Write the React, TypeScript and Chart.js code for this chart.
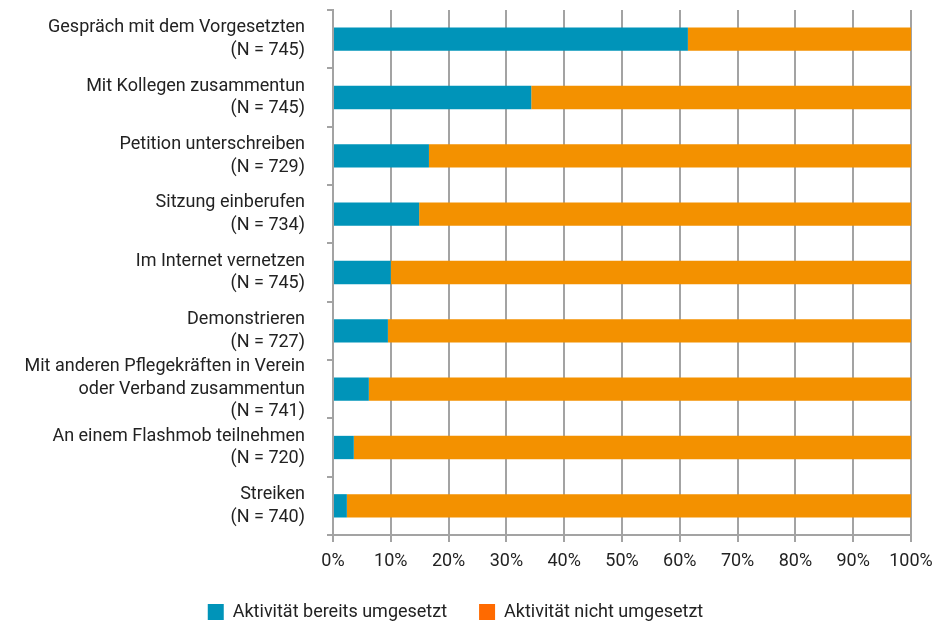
import React, { useEffect, useRef } from "react";
import { Chart, registerables } from "chart.js";

Chart.register(...registerables);

const categories: string[][] = [
  ["Gespräch mit dem Vorgesetzten", "(N = 745)"],
  ["Mit Kollegen zusammentun", "(N = 745)"],
  ["Petition unterschreiben", "(N = 729)"],
  ["Sitzung einberufen", "(N = 734)"],
  ["Im Internet vernetzen", "(N = 745)"],
  ["Demonstrieren", "(N = 727)"],
  ["Mit anderen Pflegekräften in Verein", "oder Verband zusammentun", "(N = 741)"],
  ["An einem Flashmob teilnehmen", "(N = 720)"],
  ["Streiken", "(N = 740)"],
];

const umgesetzt: number[] = [61.4, 34.3, 16.6, 14.9, 10.0, 9.5, 6.2, 3.6, 2.4];
const nichtUmgesetzt: number[] = umgesetzt.map((v) => 100 - v);

const seriesNames: string[] = ["Aktivität bereits umgesetzt", "Aktivität nicht umgesetzt"];
const xTicks: number[] = [0, 10, 20, 30, 40, 50, 60, 70, 80, 90, 100];

const FONT = "Roboto, 'Noto Sans', sans-serif";

export default function App() {
  const ref = useRef<HTMLCanvasElement | null>(null);

  useEffect(() => {
    document.body.style.margin = "0";
    const canvas = ref.current;
    if (!canvas) return;
    const blue = "#0094B9";
    const orange = "#F39100";
    const legendColors = ["#0094B9", "#FF6A00"];
    const chart = new Chart(canvas, {
      type: "bar",
      data: {
        labels: categories,
        datasets: [
          {
            label: seriesNames[0],
            data: umgesetzt,
            backgroundColor: blue,
            barPercentage: 0.4,
            categoryPercentage: 1,
          },
          {
            label: seriesNames[1],
            data: nichtUmgesetzt,
            backgroundColor: orange,
            barPercentage: 0.4,
            categoryPercentage: 1,
          },
        ],
      },
      options: {
        indexAxis: "y",
        animation: false,
        responsive: false,
        maintainAspectRatio: false,
        layout: { padding: { left: 0, right: 31, top: 10, bottom: -4 } },
        scales: {
          x: {
            stacked: true,
            min: 0,
            max: 100,
            afterBuildTicks: (scale: any) => {
              scale.ticks = xTicks.map((v) => ({ value: v }));
            },
            afterFit: (scale: any) => {
              scale.height = 36;
            },
            ticks: {
              callback: (v: any) => v + "%",
              color: "#222",
              font: { family: FONT, size: 18 },
              padding: 9,
              maxRotation: 0,
              autoSkip: false,
            },
            grid: {
              color: "#A3A3A3",
              lineWidth: 2,
              tickLength: 7,
            },
            border: { color: "#A3A3A3", width: 2 },
          },
          y: {
            stacked: true,
            afterFit: (scale: any) => {
              scale.width = 333;
              scale.paddingTop = 0;
              scale.paddingBottom = 0;
            },
            ticks: {
              color: "#222",
              font: { family: FONT, size: 18, lineHeight: 1.25 },
              padding: 22,
              autoSkip: false,
            },
            grid: {
              offset: true,
              drawOnChartArea: false,
              color: "#A3A3A3",
              lineWidth: 2,
              tickLength: 6,
            },
            border: { color: "#A3A3A3", width: 2 },
          },
        },
        plugins: {
          tooltip: { enabled: false },
          legend: {
            position: "bottom",
            labels: {
              boxWidth: 16,
              boxHeight: 16,
              padding: 32,
              color: "#222",
              font: { family: FONT, size: 18 },
              generateLabels: (c: any) =>
                c.data.datasets.map((ds: any, i: number) => ({
                  text: ds.label,
                  fillStyle: legendColors[i],
                  strokeStyle: legendColors[i],
                  lineWidth: 0,
                  hidden: false,
                  datasetIndex: i,
                  fontColor: "#222",
                })),
            },
          },
        },
      },
    } as any);
    return () => chart.destroy();
  }, []);

  return (
    <div style={{ width: 942, height: 627 }}>
      <canvas ref={ref} width={942} height={627} style={{ display: "block" }} />
    </div>
  );
}
